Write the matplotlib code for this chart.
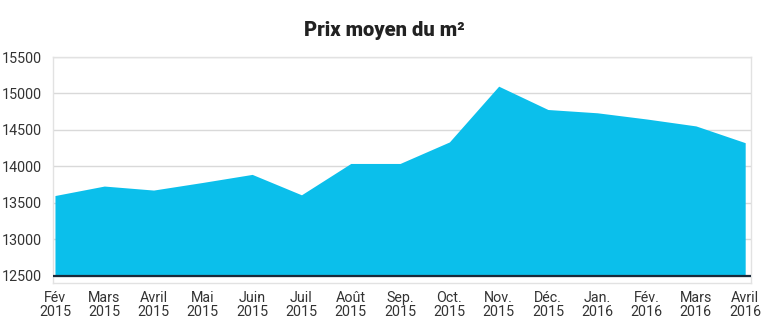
import matplotlib
matplotlib.use("Agg")
import matplotlib.pyplot as plt

plt.rcParams['font.family'] = ['Roboto', 'DejaVu Sans']

months = ["Fév", "Mars", "Avril", "Mai", "Juin", "Juil", "Août", "Sep.",
          "Oct.", "Nov.", "Déc.", "Jan.", "Fév.", "Mars", "Avril"]
years = ["2015"] * 11 + ["2016"] * 4
prix = [13600, 13730, 13675, 13780, 13890, 13610, 14040, 14040,
        14335, 15100, 14780, 14735, 14650, 14555, 14325]
yticks = [12500, 13000, 13500, 14000, 14500, 15000, 15500]
base = 12500

fig = plt.figure(figsize=(7.68, 3.24), dpi=100)
ax = fig.add_axes([0.069, 0.1265, 0.909, 0.6975])

x = list(range(len(prix)))
ax.fill_between(x, base, prix, color="#0bbfeb", linewidth=0, zorder=2)
ax.axhline(base, color="#1a2a3a", linewidth=1.6, zorder=3)

ax.set_xlim(-0.04, 14.12)
ax.set_ylim(12400, 15500)
ax.set_yticks(yticks)
ax.set_yticklabels([str(v) for v in yticks])
ax.yaxis.grid(True, color="#d9d9d9", linewidth=1.0, zorder=1)
ax.set_axisbelow(True)

ax.set_xticks(x)
ax.set_xticklabels([f"{m}\n{y}" for m, y in zip(months, years)],
                   linespacing=0.95)
ax.tick_params(axis="both", length=0, colors="#333333", labelsize=10.3)
ax.tick_params(axis="x", pad=6)
ax.tick_params(axis="y", pad=8)

for s in ax.spines.values():
    s.set_color("#e2e2e2")
    s.set_linewidth(1.0)

fig.text(0.5, 0.905, "Prix moyen du m²", ha="center", va="center",
         fontsize=14.5, fontweight="heavy", color="#222222")

fig.savefig("out.png", dpi=100)
